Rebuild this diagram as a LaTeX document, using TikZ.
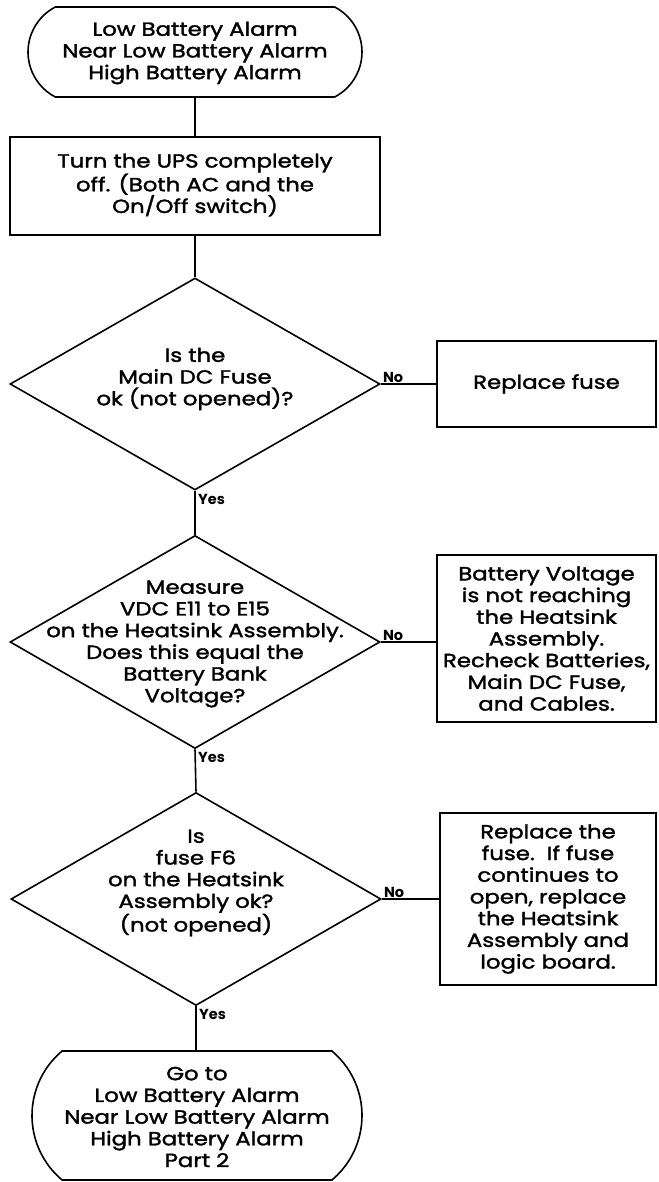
\documentclass[tikz,border=0pt]{standalone}
\usepackage{fontspec}
\setmainfont{Poppins}[FakeStretch=1.2, FakeBold=1.8]
\newfontfamily\labfont{Poppins}
\usetikzlibrary{shapes.geometric,shapes.misc}
\tikzset{
  line/.style={line width=1.6pt},
  boxnode/.style={draw, line width=1.7pt, rectangle, inner sep=0pt},
  decision/.style={draw, line width=1.6pt, diamond, inner sep=0pt},
  terminal/.style={draw, line width=1.6pt, rounded rectangle, inner sep=0pt},
  txt/.style={align=center, inner sep=0pt, font=\fontsize{19}{21.7}\selectfont},
  lab/.style={inner sep=0pt, font=\labfont\bfseries\fontsize{14.5}{15}\selectfont}
}
\begin{document}
\begin{tikzpicture}[x=1pt,y=-1pt]
\useasboundingbox (0,0) rectangle (658,1182);
% terminals
\node[terminal, minimum width=334pt, minimum height=90pt, rounded rectangle arc length=125] (t1) at (195,52) {};
\node[txt] (t1txt) at (195,53) {Low Battery Alarm\\Near Low Battery Alarm\\High Battery Alarm};
% first box
\node[boxnode, minimum width=370pt, minimum height=98pt] (b1) at (195,186) {};
\node[txt] (b1txt) at (195,185) {Turn the UPS completely\\off. (Both AC and the\\On/Off switch)};
% decisions
\node[decision, minimum width=370pt, minimum height=212pt] (d1) at (195,384) {};
\node[txt] (d1txt) at (195,379) {Is the\\Main DC Fuse\\ok (not opened)?};
\node[decision, minimum width=370pt, minimum height=213pt] (d2) at (195,642) {};
\node[txt] (d2txt) at (195,644) {Measure\\VDC E11 to E15\\on the Heatsink Assembly.\\Does this equal the\\Battery Bank\\Voltage?};
\node[decision, minimum width=370pt, minimum height=213pt] (d3) at (196,899) {};
\node[txt] (d3txt) at (196,883) {Is\\fuse F6\\on the Heatsink\\Assembly ok?\\(not opened)};
% right boxes
\node[boxnode, minimum width=219pt, minimum height=86pt] (r1) at (546.5,384) {};
\node[txt] (r1txt) at (546.5,384) {Replace fuse};
\node[boxnode, minimum width=219pt, minimum height=167pt] (r2) at (546.5,638.5) {};
\node[txt] (r2txt) at (546.5,638.5) {Battery Voltage\\is not reaching\\the Heatsink\\Assembly.\\Recheck Batteries,\\Main DC Fuse,\\and Cables.};
\node[boxnode, minimum width=216pt, minimum height=172pt] (r3) at (548,899) {};
\node[txt] (r3txt) at (548,899) {Replace the\\fuse.\ \ If fuse\\continues to\\open, replace\\the Heatsink\\Assembly and\\logic board.};
% final terminal
\node[terminal, minimum width=330pt, minimum height=129pt, rounded rectangle arc length=100] (t2) at (197,1115.5) {};
\node[txt] (t2txt) at (197,1117) {Go to\\Low Battery Alarm\\Near Low Battery Alarm\\High Battery Alarm\\Part 2};
% connectors
\draw[line] (t1.south) -- (b1.north);
\draw[line] (b1.south) -- (d1.north);
\draw[line] (d1.south) -- (d2.north);
\draw[line] (d2.south) -- (d3.north);
\draw[line] (d3.south) -- (d3.south |- t2.north);
\draw[line] (d1.east) -- (d1.east -| r1.west);
\draw[line] (d2.east) -- (d2.east -| r2.west);
\draw[line] (d3.east) -- (d3.east -| r3.west);
% labels
\node[lab, anchor=south west] (no1) at ([xshift=2pt,yshift=1pt]d1.east) {No};
\node[lab, anchor=south west] (no2) at ([xshift=2pt,yshift=1pt]d2.east) {No};
\node[lab, anchor=south west] (no3) at ([xshift=2pt,yshift=1pt]d3.east) {No};
\node[lab, anchor=north west] (yes1) at ([xshift=3pt,yshift=-3pt]d1.south) {Yes};
\node[lab, anchor=north west] (yes2) at ([xshift=3pt,yshift=-3pt]d2.south) {Yes};
\node[lab, anchor=north west] (yes3) at ([xshift=3pt,yshift=-3pt]d3.south) {Yes};
\end{tikzpicture}
\end{document}
